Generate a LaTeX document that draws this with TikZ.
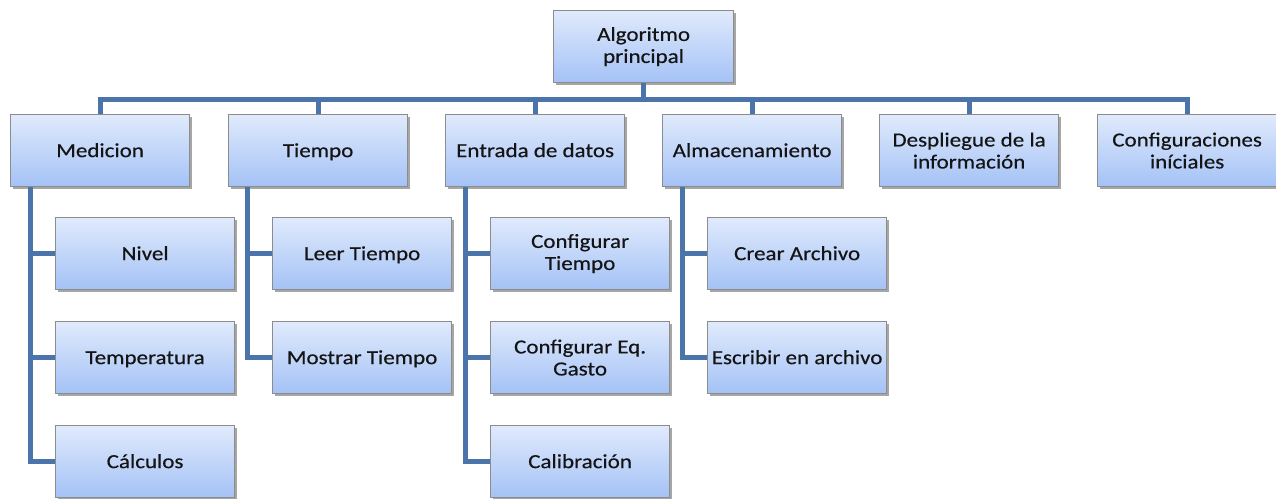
\documentclass[tikz,border=0pt]{standalone}
\usepackage{fontspec}
\setmainfont{Carlito}[FakeStretch=1.15,FakeBold=0.4]
\usetikzlibrary{shadows}
\definecolor{conncol}{RGB}{74,116,170}
\definecolor{boxtop}{RGB}{224,234,252}
\definecolor{boxbot}{RGB}{164,194,246}
\definecolor{boxline}{RGB}{140,140,140}
\definecolor{txt}{RGB}{20,20,20}
\tikzset{
  box/.style={draw=boxline, line width=1.2pt, top color=boxtop, bottom color=boxbot,
    minimum width=179pt, minimum height=72pt, inner sep=0pt, anchor=north west,
    align=center, text=txt, font=\fontsize{20}{22}\selectfont,
    drop shadow={shadow xshift=2.5pt, shadow yshift=-2.5pt, opacity=0.35, fill=black}},
  sbox/.style={box, text height=15.5pt, text depth=2.5pt},
  conn/.style={draw=conncol, line width=5pt, line join=miter}
}
\begin{document}
\begin{tikzpicture}[x=1pt,y=1pt]
\useasboundingbox (0,0) rectangle (1276,-498);
% root
\node[box, minimum width=180pt] (root) at (553,-10) {Algoritmo\\principal};
% level 1
\node[sbox] (med) at (10,-114) {Medicion};
\node[sbox] (tie) at (228,-114) {Tiempo};
\node[sbox] (ent) at (445,-114) {Entrada de datos};
\node[sbox] (alm) at (662,-114) {Almacenamiento};
\node[box] (des) at (879,-114) {Despliegue de la\\información};
\node[box] (cfg) at (1097,-114) {Configuraciones\\iníciales};
% Medicion children
\node[sbox] (niv) at (55,-217) {Nivel};
\node[sbox] (tem) at (55,-321) {Temperatura};
\node[sbox] (cal) at (55,-425) {Cálculos};
% Tiempo children
\node[sbox] (lee) at (272,-217) {Leer Tiempo};
\node[sbox] (mos) at (272,-321) {Mostrar Tiempo};
% Entrada children
\node[box] (ctie) at (490,-217) {Configurar\\Tiempo};
\node[box] (ceq) at (490,-321) {Configurar Eq.\\Gasto};
\node[sbox] (cali) at (490,-425) {Calibración};
% Almacenamiento children
\node[sbox] (cre) at (707,-217) {Crear Archivo};
\node[sbox] (esc) at (707,-321) {Escribir en archivo};
% bus
\coordinate (bus) at (643,-99);
\draw[conn] (root.south) -- (root.south |- bus);
\draw[conn, line cap=butt] ([xshift=-2.5pt]bus -| med.north) -- ([xshift=2.5pt]bus -| cfg.north);
\foreach \n in {med,tie,ent,alm,des,cfg}{
  \draw[conn] (bus -| \n.north) -- (\n.north);
}
% children connectors
\draw[conn] ([xshift=20pt]med.south west) |- (cal.west);
\draw[conn] ([xshift=20pt]med.south west |- niv.west) -- (niv.west);
\draw[conn] ([xshift=20pt]med.south west |- tem.west) -- (tem.west);
\draw[conn] ([xshift=19pt]tie.south west) |- (mos.west);
\draw[conn] ([xshift=19pt]tie.south west |- lee.west) -- (lee.west);
\draw[conn] ([xshift=20pt]ent.south west) |- (cali.west);
\draw[conn] ([xshift=20pt]ent.south west |- ctie.west) -- (ctie.west);
\draw[conn] ([xshift=20pt]ent.south west |- ceq.west) -- (ceq.west);
\draw[conn] ([xshift=20pt]alm.south west) |- (esc.west);
\draw[conn] ([xshift=20pt]alm.south west |- cre.west) -- (cre.west);
\end{tikzpicture}
\end{document}
